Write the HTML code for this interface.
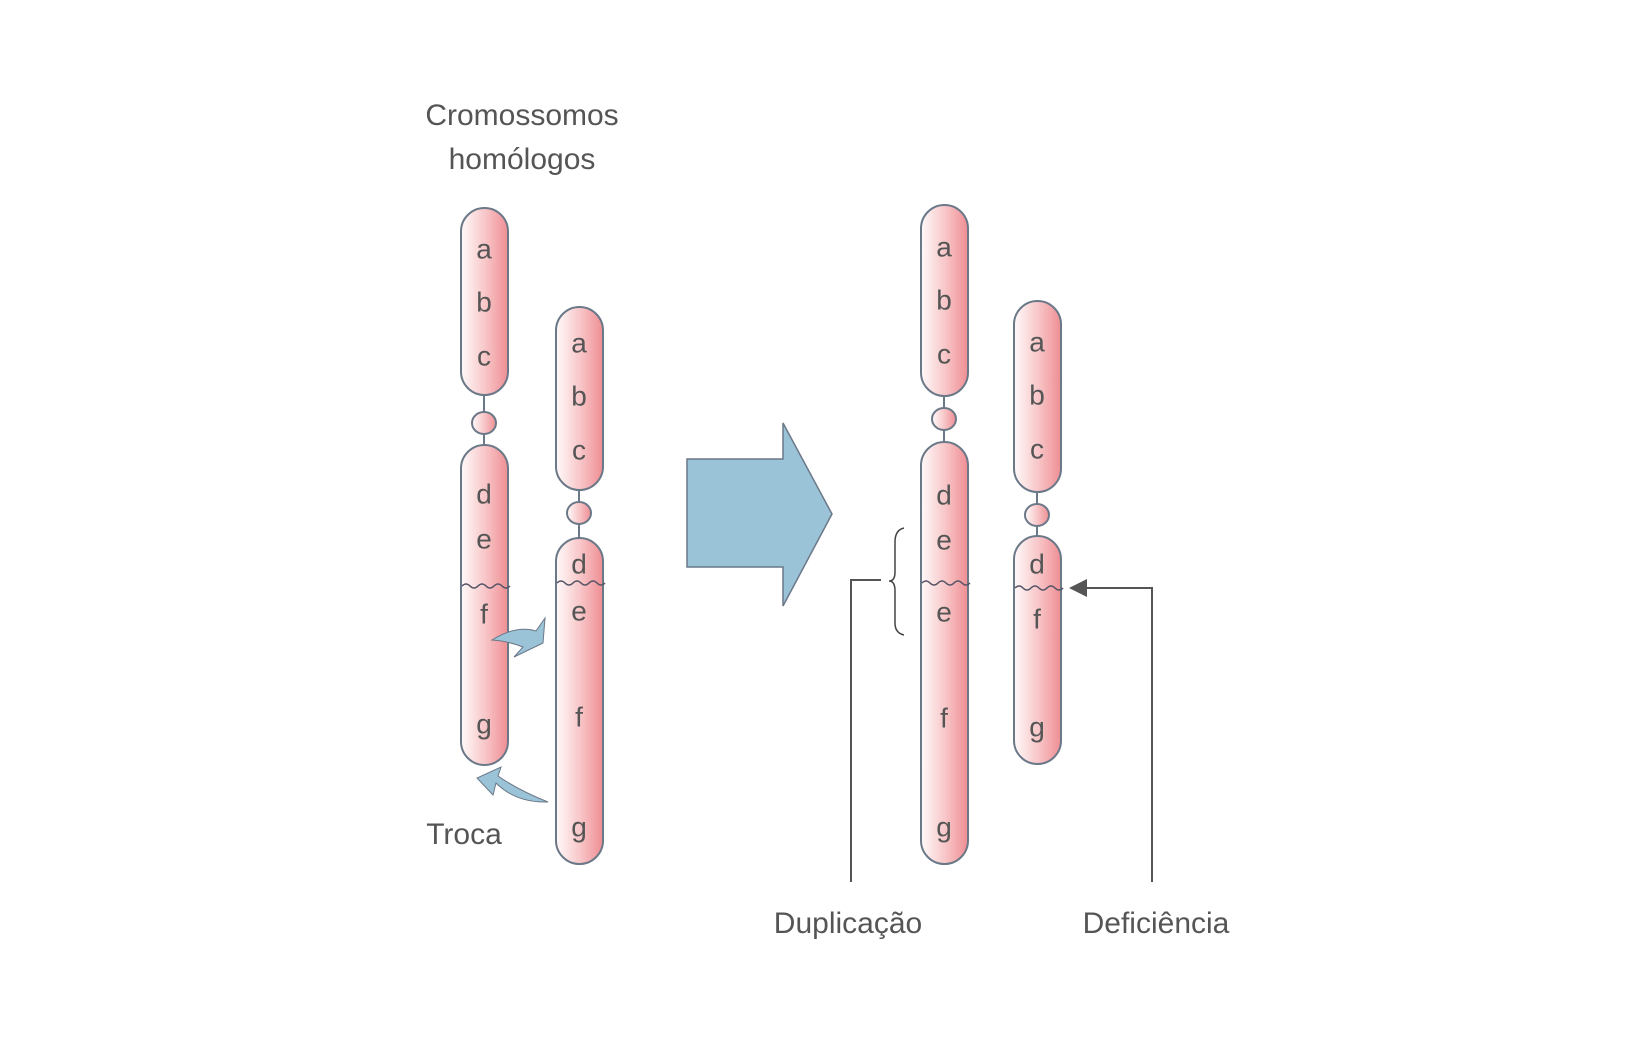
<!DOCTYPE html>
<html><head><meta charset="utf-8"><style>
html,body{margin:0;padding:0;background:#fff}
svg{display:block}
text{font-family:"Liberation Sans",sans-serif;fill:#555;}
</style></head><body>
<svg width="1647" height="1042" viewBox="0 0 1647 1042" xmlns="http://www.w3.org/2000/svg">
<defs>
<linearGradient id="g" x1="0" x2="1" y1="0" y2="0">
<stop offset="0" stop-color="#fffafa"/><stop offset="0.5" stop-color="#f8c8ca"/><stop offset="1" stop-color="#ee8e93"/>
</linearGradient>
</defs>
<g transform="translate(-4,-3)">
<g stroke="#6b7888" stroke-width="2" fill="url(#g)">
<line x1="488" y1="398" x2="488" y2="448"/>
<rect x="465" y="211" width="47" height="187" rx="23.5"/>
<ellipse cx="488" cy="426" rx="12" ry="11"/>
<rect x="465" y="448" width="47" height="320" rx="23.5"/>
<line x1="583" y1="493" x2="583" y2="541"/>
<rect x="560" y="310" width="47" height="183" rx="23.5"/>
<ellipse cx="583" cy="516" rx="12" ry="11"/>
<rect x="560" y="541" width="47" height="326" rx="23.5"/>
<line x1="948" y1="399" x2="948" y2="445"/>
<rect x="925" y="208" width="47" height="191" rx="23.5"/>
<ellipse cx="948" cy="422" rx="12" ry="11"/>
<rect x="925" y="445" width="47" height="422" rx="23.5"/>
<line x1="1041" y1="495" x2="1041" y2="539"/>
<rect x="1018" y="304" width="47" height="191" rx="23.5"/>
<ellipse cx="1041" cy="518" rx="12" ry="11"/>
<rect x="1018" y="539" width="47" height="228" rx="23.5"/>
</g>
<g stroke="#556" stroke-width="1.5" fill="none">
<path d="M466 589 q4 -4 8 0 t8 0 t8 0 t8 0 t8 0 t8 0"/>
<path d="M561 586 q4 -4 8 0 t8 0 t8 0 t8 0 t8 0 t8 0"/>
<path d="M926 586 q4 -4 8 0 t8 0 t8 0 t8 0 t8 0 t8 0"/>
<path d="M1019 591 q4 -4 8 0 t8 0 t8 0 t8 0 t8 0 t8 0"/>
</g>
<g font-size="28" text-anchor="middle" dominant-baseline="central">
<text x="488" y="252">a</text><text x="488" y="305">b</text><text x="488" y="359">c</text>
<text x="488" y="497">d</text><text x="488" y="542">e</text><text x="488" y="617">f</text><text x="488" y="727">g</text>
<text x="583" y="346">a</text><text x="583" y="399">b</text><text x="583" y="453">c</text>
<text x="583" y="567">d</text><text x="583" y="614">e</text><text x="583" y="720">f</text><text x="583" y="830">g</text>
<text x="948" y="250">a</text><text x="948" y="303">b</text><text x="948" y="357">c</text>
<text x="948" y="498">d</text><text x="948" y="543">e</text><text x="948" y="615">e</text><text x="948" y="721">f</text><text x="948" y="830">g</text>
<text x="1041" y="345">a</text><text x="1041" y="398">b</text><text x="1041" y="452">c</text>
<text x="1041" y="567">d</text><text x="1041" y="622">f</text><text x="1041" y="730">g</text>
</g>
<g font-size="30" text-anchor="middle">
<text x="526" y="128">Cromossomos</text>
<text x="526" y="172">homólogos</text>
<text x="468" y="847">Troca</text>
<text x="852" y="936">Duplicação</text>
<text x="1160" y="936">Deficiência</text>
</g>
<path d="M691 462 H787 V426 L836 517 L787 609 V570 H691 Z" fill="#9bc3d8" stroke="#6b7888" stroke-width="1.5"/>
<path d="M496 643 Q520 628 540 634 L549 621 L547 646 L518 660 L527 650 Q512 644 496 643 Z" fill="#9bc3d8" stroke="#6b7888" stroke-width="1"/>
<path d="M552 805 Q520 806 500 786 L497 798 L481 781 L505 770 L502 779 Q522 793 552 805 Z" fill="#9bc3d8" stroke="#6b7888" stroke-width="1"/>
<path d="M908 531 Q899 533 899 545 V575 Q899 584 893 584 Q899 584 899 594 V626 Q899 636 908 638" fill="none" stroke="#444" stroke-width="1.5"/>
<polyline points="885,583 855,583 855,885" fill="none" stroke="#555" stroke-width="2"/>
<polyline points="1088,591 1156,591 1156,885" fill="none" stroke="#555" stroke-width="2"/>
<polygon points="1073,591 1091,582 1091,600" fill="#555"/>
</g>
</svg>
</body></html>
